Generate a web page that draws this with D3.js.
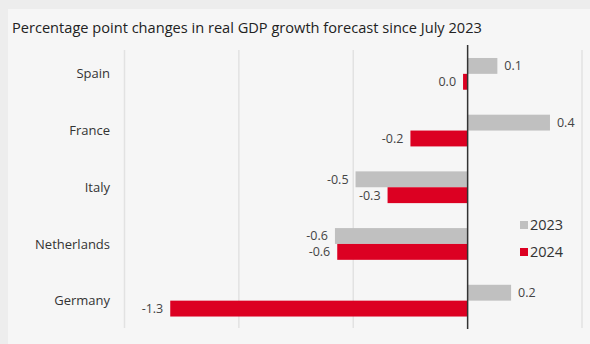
<!DOCTYPE html>
<html>
<head>
<meta charset="utf-8">
<script src="https://cdn.jsdelivr.net/npm/d3@7"></script>
<style>
  html, body { margin: 0; padding: 0; background: #ededed; }
  svg { display: block; }
</style>
</head>
<body>
<svg id="chart" width="590" height="344"></svg>
<script>
const title = "Percentage point changes in real GDP growth forecast since July 2023";
const categories = ["Spain", "France", "Italy", "Netherlands", "Germany"];
const seriesNames = ["2023", "2024"];
const values2023 = [0.13, 0.36, -0.49, -0.58, 0.19];
const values2024 = [-0.02, -0.25, -0.35, -0.57, -1.30];
const xTicks = [-1.5, -1.0, -0.5, 0, 0.5];
const colors = ["#c0c0c0", "#dc0022"];

const svg = d3.select("#chart");
const W = 590, H = 344;
const font = "'Open Sans', 'Noto Sans', sans-serif";

svg.append("rect").attr("x", 8).attr("y", 9).attr("width", W - 8).attr("height", H - 9).attr("fill", "#f6f6f6");

svg.append("text").attr("x", 12).attr("y", 33).text(title)
  .attr("font-family", font).attr("font-size", 14.6).attr("fill", "#222");

const x = d3.scaleLinear().domain([-1.5, 0.5]).range([124.5, 582]);
const y = d3.scaleBand().domain(categories).range([45.5, 329]).paddingInner(0.44).paddingOuter(0.22);
const yInner = d3.scaleBand().domain(seriesNames).range([0, y.bandwidth()]);

// grid
svg.append("g").selectAll("line").data(xTicks.filter(d => d !== 0)).join("line")
  .attr("x1", d => x(d)).attr("x2", d => x(d)).attr("y1", 50).attr("y2", 328)
  .attr("stroke", "#e2e2e2").attr("stroke-width", 1.5);

const rows = categories.map((c, i) => ({ c, vals: [values2023[i], values2024[i]] }));
const fmt = v => { const r = Math.round(v * 10) / 10; return r === 0 ? "0.0" : r.toFixed(1); };

const g = svg.append("g");
rows.forEach(row => {
  row.vals.forEach((v, j) => {
    const yy = y(row.c) + yInner(seriesNames[j]);
    g.append("rect")
      .attr("x", Math.min(x(0), x(v))).attr("width", Math.abs(x(v) - x(0)))
      .attr("y", yy).attr("height", yInner.bandwidth())
      .attr("fill", colors[j]);
    g.append("text")
      .attr("x", v > 0 ? x(v) + 7 : Math.min(x(v), x(0) - 2) - 7)
      .attr("y", yy + yInner.bandwidth() / 2)
      .attr("dy", "0.35em")
      .attr("text-anchor", v > 0 ? "start" : "end")
      .attr("font-family", font).attr("font-size", 12.5).attr("fill", "#444")
      .text(fmt(v));
  });
});

// category axis labels
svg.append("g").selectAll("text").data(categories).join("text")
  .attr("x", 110).attr("y", d => y(d) + y.bandwidth() / 2).attr("dy", "0.35em")
  .attr("text-anchor", "end").attr("font-family", font).attr("font-size", 13).attr("fill", "#333")
  .text(d => d);

// zero line
svg.append("line").attr("x1", x(0)).attr("x2", x(0)).attr("y1", 45).attr("y2", 329)
  .attr("stroke", "#333").attr("stroke-width", 1.5);

// legend
const leg = svg.append("g");
seriesNames.forEach((s, i) => {
  const ly = 225 + i * 27;
  leg.append("rect").attr("x", 520).attr("y", ly - 4).attr("width", 8).attr("height", 8).attr("fill", colors[i]);
  leg.append("text").attr("x", 530).attr("y", ly).attr("dy", "0.36em")
    .attr("font-family", font).attr("font-size", 14.5).attr("fill", "#333").text(s);
});
</script>
</body>
</html>
